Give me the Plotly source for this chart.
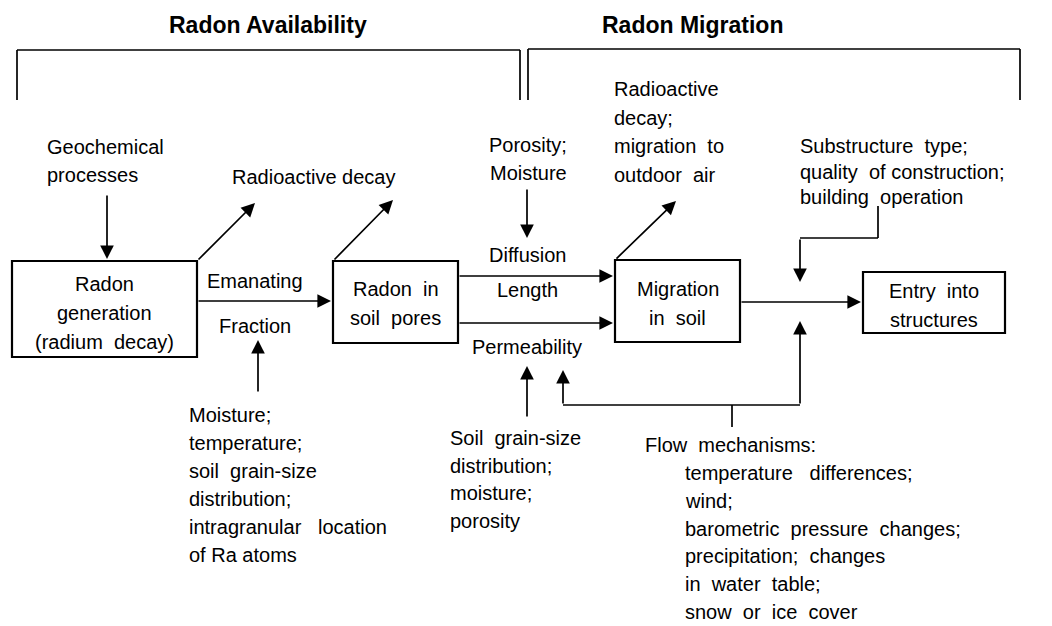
import plotly.graph_objects as go

# ---- text content of the diagram ----
section_titles = ["Radon Availability", "Radon Migration"]
box_lines = [
    ["Radon", "generation", "(radium  decay)"],
    ["Radon  in", "soil  pores"],
    ["Migration", "in  soil"],
    ["Entry  into", "structures"],
]
geochem = ["Geochemical", "processes"]
decay_label = ["Radioactive decay"]
emanating = ["Emanating", "Fraction"]
porosity = ["Porosity;", "Moisture"]
diffusion = ["Diffusion", "Length"]
permeability = ["Permeability"]
decay_outdoor = ["Radioactive", "decay;", "migration  to", "outdoor  air"]
substructure = ["Substructure  type;", "quality  of construction;", "building  operation"]
emanation_factors = ["Moisture;", "temperature;", "soil  grain-size", "distribution;",
                     "intragranular   location", "of Ra atoms"]
soil_factors = ["Soil  grain-size", "distribution;", "moisture;", "porosity"]
flow_head = ["Flow  mechanisms:"]
flow_factors = ["temperature   differences;", "wind;", "barometric  pressure  changes;",
                "precipitation;  changes", "in  water  table;", "snow  or  ice  cover"]

# ---- layout (pixel space, y down) ----
box_rects = [(12, 261, 197, 357), (333, 261, 458, 343), (615, 260, 740, 342), (863, 272, 1005, 333)]
box_text_y = [284, 289, 289, 291]
FONT = "Liberation Sans"
FS = 20

fig = go.Figure()
ann = []
shapes = []


def text_block(lines, x, y0, dy, anchor="left", size=FS, bold=False):
    for i, t in enumerate(lines):
        ann.append(dict(x=x, y=y0 + i * dy, text=("<b>%s</b>" % t) if bold else t,
                        showarrow=False, xanchor=anchor, yanchor="middle",
                        font=dict(family=FONT, size=size, color="black")))


def line(x0, y0, x1, y1, w=1.7):
    shapes.append(dict(type="line", x0=x0, y0=y0, x1=x1, y1=y1,
                       line=dict(color="black", width=w)))


def arrow(x0, y0, x1, y1):
    ann.append(dict(x=x1, y=y1, ax=x0, ay=y0, xref="x", yref="y", axref="x", ayref="y",
                    text="", showarrow=True, arrowhead=2, arrowsize=1.6, arrowwidth=1.7,
                    arrowcolor="black", standoff=0, startstandoff=0))


# section brackets
text_block([section_titles[0]], 268, 25, 0, "center", 23, True)
text_block([section_titles[1]], 692, 25, 0, "center", 23, True)
line(17, 50, 520, 50)
line(17, 50, 17, 100)
line(520, 50, 520, 100)
line(528, 49, 1020, 49)
line(528, 49, 528, 100)
line(1020, 49, 1020, 100)

# boxes
for (x0, y0, x1, y1), lines, ty in zip(box_rects, box_lines, box_text_y):
    shapes.append(dict(type="rect", x0=x0, y0=y0, x1=x1, y1=y1,
                       line=dict(color="black", width=2.2)))
    text_block(lines, (x0 + x1) / 2, ty, 29, "center")

# upper labels
text_block(geochem, 45, 147, 28)
arrow(107, 194, 107, 259)
text_block(decay_label, 230, 177, 0)
arrow(197, 261, 255, 203)
arrow(333, 261, 393, 200)
text_block(emanating, 255, 281, 45, "center")
arrow(197, 301, 331, 301)
text_block(porosity, 528, 145, 28, "center")
arrow(527, 188, 527, 238)
text_block(diffusion, 527, 255, 35, "center")
arrow(458, 276, 613, 276)
arrow(458, 323, 613, 323)
text_block(permeability, 527, 347, 0, "center")
text_block(decay_outdoor, 612, 89, 28.7)
arrow(615, 260, 676, 201)
text_block(substructure, 798, 146, 25.5)
line(878, 206, 878, 238)
line(878, 238, 800, 238)
arrow(800, 238, 800, 282)
arrow(740, 302, 861, 302)

# lower labels
arrow(258, 393, 258, 340)
text_block(emanation_factors, 187, 415, 28)
arrow(527, 418, 527, 366)
text_block(soil_factors, 448, 438, 27.5)
line(732, 405, 732, 427)
line(563, 405, 800, 405)
arrow(563, 405, 563, 370)
arrow(800, 405, 800, 321)
text_block(flow_head, 643, 445, 0)
text_block(flow_factors, 683, 473, 27.8)

# the page body has an 8px margin, so shift the ranges to keep pixel coordinates
fig.update_layout(
    width=1052, height=626,
    margin=dict(l=0, r=0, t=0, b=0),
    paper_bgcolor="white", plot_bgcolor="white",
    xaxis=dict(range=[8, 1060], visible=False, fixedrange=True),
    yaxis=dict(range=[634, 8], visible=False, fixedrange=True),
    annotations=ann, shapes=shapes, showlegend=False,
)

fig.write_html("out.html")
